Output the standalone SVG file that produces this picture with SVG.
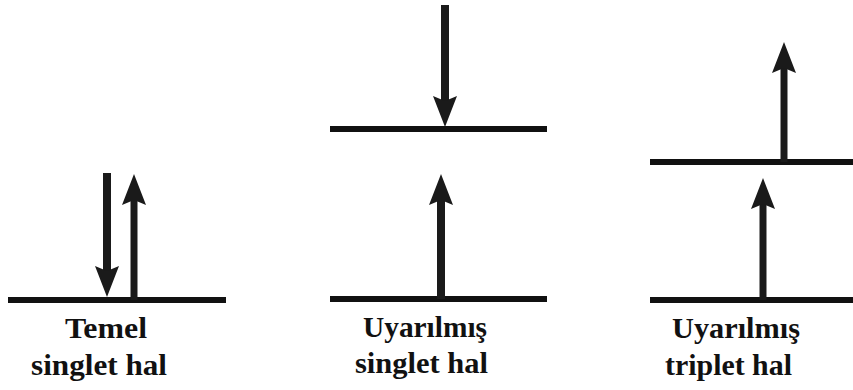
<svg xmlns="http://www.w3.org/2000/svg" xmlns:xlink="http://www.w3.org/1999/xlink" width="853" height="390" viewBox="0 0 853 390">
  <style>
    .lvl { stroke: #111; stroke-width: 6; fill: none; }
    .shaft { stroke: #1a1a1a; stroke-width: 8; fill: none; }
    .thin { stroke-width: 7; }
    .head { fill: #1a1a1a; }
    .lbl { font-family: "Liberation Serif", "Times New Roman", serif; font-weight: 700; font-size: 30px; fill: #111; }
  </style>
  <defs>
    <path id="headUp" class="head" d="M0,0 L12,31 L0,26 L-12,31 Z"/>
  </defs>
  <rect width="853" height="390" fill="#fff"/>

  <g id="temel-singlet">
    <line class="lvl" x1="8" y1="300" x2="226" y2="300"/>
    <line class="shaft" x1="107" y1="173" x2="107" y2="272"/>
    <use xlink:href="#headUp" transform="translate(107,297) rotate(180)"/>
    <line class="shaft thin" x1="134" y1="198" x2="134" y2="300"/>
    <use xlink:href="#headUp" transform="translate(134,174)"/>
    <text class="lbl" x="65" y="338" textLength="82" lengthAdjust="spacingAndGlyphs">Temel</text>
    <text class="lbl" x="31" y="375" textLength="136" lengthAdjust="spacingAndGlyphs">singlet hal</text>
  </g>

  <g id="uyarilmis-singlet">
    <line class="lvl" x1="330" y1="129" x2="547" y2="129"/>
    <line class="shaft" x1="445" y1="5" x2="445" y2="102"/>
    <use xlink:href="#headUp" transform="translate(445,127) rotate(180)"/>
    <line class="lvl" x1="330" y1="299" x2="547" y2="299"/>
    <line class="shaft" x1="441" y1="199" x2="441" y2="299"/>
    <use xlink:href="#headUp" transform="translate(441,174)"/>
    <text class="lbl" x="363" y="337" textLength="124" lengthAdjust="spacingAndGlyphs">Uyarılmış</text>
    <text class="lbl" x="355" y="373" textLength="133" lengthAdjust="spacingAndGlyphs">singlet hal</text>
  </g>

  <g id="uyarilmis-triplet">
    <line class="lvl" x1="650" y1="162" x2="853" y2="162"/>
    <line class="shaft thin" x1="784" y1="67" x2="784" y2="162"/>
    <use xlink:href="#headUp" transform="translate(784,42)"/>
    <line class="lvl" x1="650" y1="300" x2="853" y2="300"/>
    <line class="shaft thin" x1="763" y1="203" x2="763" y2="300"/>
    <use xlink:href="#headUp" transform="translate(763,178)"/>
    <text class="lbl" x="672" y="338" textLength="128" lengthAdjust="spacingAndGlyphs">Uyarılmış</text>
    <text class="lbl" x="665" y="375" textLength="127" lengthAdjust="spacingAndGlyphs">triplet hal</text>
  </g>

  <g id="connectors"/>
</svg>
